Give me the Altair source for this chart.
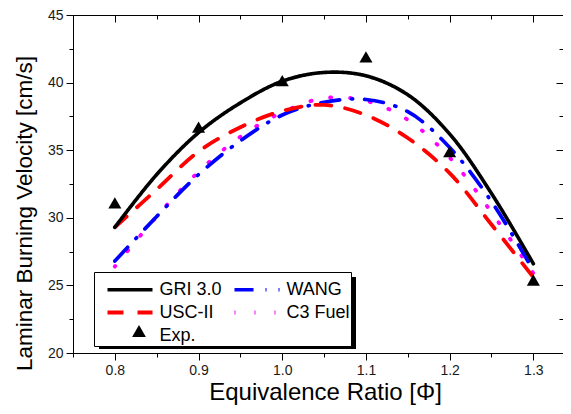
import altair as alt
import pandas as pd

# ---- data ----
phi = [0.80, 0.85, 0.90, 0.95, 1.00, 1.05, 1.10, 1.15, 1.20, 1.25, 1.30]
gri = [29.3, 33.2, 36.3, 38.5, 40.1, 40.75, 40.5, 39.1, 36.2, 31.8, 26.6]
usc = [29.3, 32.1, 34.9, 36.7, 37.9, 38.35, 37.6, 35.9, 33.3, 29.5, 25.6]
wang = [26.8, 30.1, 33.2, 35.7, 37.6, 38.55, 38.75, 37.85, 35.2, 31.2, 26.1]
c3 = [26.4, 30.1, 33.4, 36.0, 37.8, 38.85, 38.65, 37.25, 34.45, 30.4, 25.9]

exp_phi = [0.8, 0.9, 1.0, 1.1, 1.2, 1.3]
exp_v = [31.1, 36.7, 40.15, 41.9, 34.9, 25.4]

legend_order = ["GRI 3.0", "WANG", "USC-II", "C3 Fuel", "Exp."]
colors = ["#000000", "#0000ff", "#ff0000", "#ff00ff", "transparent"]
dashes = [[1, 0], [19, 12, 1, 12], [16, 14], [1, 19], [1, 0]]
widths = [3.6, 4, 4, 4, 1]

x_ticks = [0.75, 0.80, 0.85, 0.90, 0.95, 1.00, 1.05, 1.10, 1.15, 1.20, 1.25, 1.30]
y_ticks = [20, 22.5, 25, 27.5, 30, 32.5, 35, 37.5, 40, 42.5, 45]

# ---- tables ----
rows = []
for name, vals in [("C3 Fuel", c3), ("WANG", wang), ("USC-II", usc), ("GRI 3.0", gri)]:
    for p, v in zip(phi, vals):
        rows.append({"series": name, "phi": p, "v": v})
lines_df = pd.DataFrame(rows)
exp_df = pd.DataFrame({"phi": exp_phi, "v": exp_v, "series": ["Exp."] * len(exp_phi)})

FONT = "Liberation Sans"
W, H = 490, 338
xs = alt.Scale(domain=[0.75, 0.75 + W / 837.0], nice=False, zero=False)
ys = alt.Scale(domain=[20, 45], nice=False, zero=False)

major_x = "abs(datum.value*10 - round(datum.value*10)) < 0.001"
major_y = "abs(datum.value/5 - round(datum.value/5)) < 0.001"

x_axis = alt.Axis(
    orient="bottom", values=x_ticks, grid=False,
    labelExpr=f"({major_x}) ? format(datum.value, '.1f') : ''",
    tickSize={"condition": {"test": major_x, "value": 7}, "value": 4},
    tickColor="black", domainColor="black", labelColor="#1a1a1a",
    labelFont=FONT, labelFontSize=14, labelPadding=3,
    labelFlush=False, labelOverlap=False,
    title="Equivalence Ratio [Φ]", titleFont=FONT, titleFontSize=24,
    titleFontWeight="normal", titleColor="black",
    titleX=252, titleY=46, titleAlign="center", titleBaseline="alphabetic",
)
y_axis = alt.Axis(
    orient="left", values=y_ticks, grid=False,
    labelExpr=f"({major_y}) ? format(datum.value, 'd') : ''",
    tickSize={"condition": {"test": major_y, "value": 7}, "value": 4},
    tickColor="black", domainColor="black", labelColor="#1a1a1a",
    labelFont=FONT, labelFontSize=14, labelPadding=3,
    labelFlush=False, labelOverlap=False,
    title="Laminar Burning Velocity [cm/s]", titleFont=FONT, titleFontSize=22.5,
    titleFontWeight="normal", titleColor="black", titleAngle=270,
    titleX=-49, titleY=198, titleAlign="center", titleBaseline="middle",
)
top_axis = alt.Axis(
    orient="bottom", offset=-H, values=x_ticks, grid=False, labels=False,
    tickSize={"condition": {"test": major_x, "value": 7}, "value": 4},
    tickColor="black", domainColor="black", title=None,
)
right_axis = alt.Axis(
    orient="left", offset=-W, values=y_ticks, grid=False, labels=False, domain=False,
    tickSize={"condition": {"test": major_y, "value": 7}, "value": 4},
    tickColor="black", title=None,
)

legend_lines = alt.Legend(
    title=" ", titleFontSize=8, titlePadding=0,
    orient="none", legendX=21, legendY=257, columns=2,
    direction="horizontal",
    fillColor="white", strokeColor="black", padding=1,
    symbolType="stroke", symbolSize=2025, symbolStrokeWidth=4,
    symbolOffset=10.5, labelOffset=5, columnPadding=-7, rowPadding=4,
    clipHeight=17, labelFont=FONT, labelFontSize=18, labelColor="black",
    labelLimit=300, zindex=1,
)
legend_exp = alt.Legend(
    title=None, orient="none", legendX=59, legendY=309, padding=0,
    fillColor="transparent", strokeColor="transparent",
    labelExpr="''", symbolSize=190, symbolFillColor="black",
    symbolStrokeWidth=0, symbolOpacity=1, zindex=2,
)

shadow = alt.Chart(pd.DataFrame({"k": [0]})).mark_rect(color="black").encode(
    x=alt.value(26), x2=alt.value(283), y=alt.value(262), y2=alt.value(334)
)

lines = alt.Chart(lines_df).mark_line(strokeCap="round", interpolate="catmull-rom").encode(
    x=alt.X("phi:Q", scale=xs, axis=x_axis),
    y=alt.Y("v:Q", scale=ys, axis=y_axis),
    color=alt.Color("series:N", scale=alt.Scale(domain=legend_order, range=colors), legend=legend_lines),
    strokeDash=alt.StrokeDash("series:N", scale=alt.Scale(domain=legend_order, range=dashes), legend=legend_lines),
    strokeWidth=alt.StrokeWidth("series:N", scale=alt.Scale(domain=legend_order, range=widths), legend=legend_lines),
    order=alt.Order("phi:Q"),
)

points = alt.Chart(exp_df).mark_point(filled=True, color="black", size=170, opacity=1).encode(
    x=alt.X("phi:Q", scale=xs, axis=None),
    y=alt.Y("v:Q", scale=ys, axis=None),
    shape=alt.Shape("series:N", scale=alt.Scale(domain=["Exp."], range=["triangle-up"]), legend=legend_exp),
)

frame = alt.Chart(exp_df).mark_point(opacity=0).encode(
    x=alt.X("phi:Q", scale=xs, axis=top_axis),
    y=alt.Y("v:Q", scale=ys, axis=right_axis),
)

chart = alt.layer(shadow, lines, points, frame).resolve_axis(
    x="independent", y="independent"
).properties(
    width=W, height=H,
    padding={"left": 65, "top": 7, "right": 0, "bottom": 52},
    autosize=alt.AutoSizeParams(type="none"),
    background="white",
).configure_view(stroke="transparent").configure(font=FONT).configure_legend(
    strokeColor="black", fillColor="white"
)

chart.save("out.html", embed_options={"renderer": "svg", "actions": False})
